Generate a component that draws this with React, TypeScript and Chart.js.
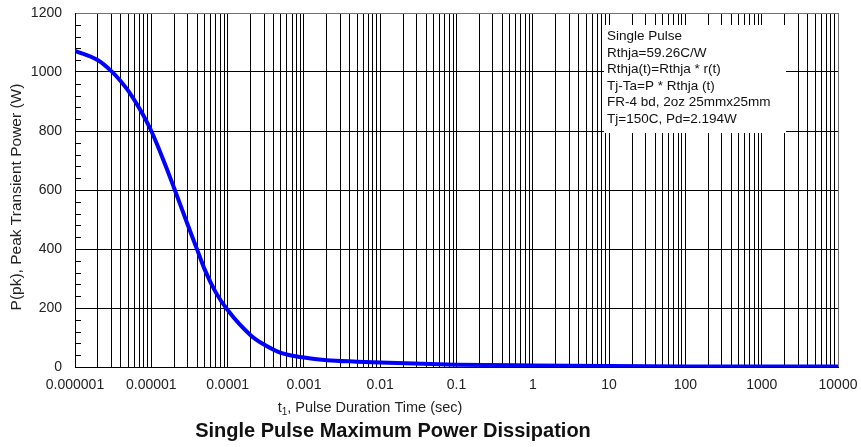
import React, { useEffect, useRef } from "react";
import { Chart, registerables } from "chart.js";

Chart.register(...registerables);

// ---- Data ----
const pulseTimes = [
  1e-6, 2e-6, 3e-6, 4e-6, 5e-6, 7e-6, 1e-5, 1.5e-5, 2e-5, 3e-5, 4e-5, 5e-5, 7e-5, 1e-4, 2e-4, 3e-4, 5e-4,
  1e-3, 2e-3, 5e-3, 1e-2, 0.1, 1, 10, 100, 1000, 10000,
];
const peakPower = [
  1072, 1040, 1003, 968, 936, 876, 800, 690, 605, 482, 397, 331, 253, 193, 108, 76, 48,
  32, 23, 18, 15, 8, 5, 3, 2, 2, 2,
];
const xDecadeLabels = [
  "0.000001", "0.00001", "0.0001", "0.001", "0.01", "0.1", "1", "10", "100", "1000", "10000",
];
const yTickValues = [0, 200, 400, 600, 800, 1000, 1200];
const yMinorStep = 40;
const legendLines = [
  "Single Pulse",
  "Rthja=59.26C/W",
  "Rthja(t)=Rthja * r(t)",
  "Tj-Ta=P * Rthja (t)",
  "FR-4 bd, 2oz 25mmx25mm",
  "Tj=150C, Pd=2.194W",
];
const xTitleMain = "t";
const xTitleSub = "1";
const xTitleRest = ", Pulse Duration Time (sec)";
const yTitle = "P(pk), Peak Transient Power (W)";
const chartTitle = "Single Pulse Maximum Power Dissipation";

const X_MIN_EXP = -6;
const X_MAX_EXP = 4;

const FONT = '"Liberation Sans", Arial, sans-serif';

function buildLogTicks(): number[] {
  const out: number[] = [];
  for (let e = X_MIN_EXP; e < X_MAX_EXP; e++) {
    for (let k = 1; k <= 9; k++) {
      out.push(Number((k * Math.pow(10, e)).toPrecision(12)));
    }
  }
  out.push(Math.pow(10, X_MAX_EXP));
  return out;
}

function decadeIndex(v: number): number {
  const lg = Math.log10(v);
  const r = Math.round(lg);
  return Math.abs(lg - r) < 1e-9 ? r - X_MIN_EXP : -1;
}

const overlayPlugin = {
  id: "overlay",
  beforeDatasetsDraw(chart: any) {
    const ctx = chart.ctx as CanvasRenderingContext2D;
    const { left, top, right } = chart.chartArea;
    const yScale = chart.scales.y;
    ctx.save();
    // minor ticks on left axis
    ctx.strokeStyle = "#000";
    ctx.lineWidth = 1;
    for (let v = yMinorStep; v < 1200; v += yMinorStep) {
      if (v % 200 === 0) continue;
      const py = Math.round(yScale.getPixelForValue(v)) + 0.5;
      ctx.beginPath();
      ctx.moveTo(left, py);
      ctx.lineTo(left + 6, py);
      ctx.stroke();
    }
    // legend box
    const boxLeft = right - 234;
    const boxRight = right - 52;
    const boxTop = top + 12;
    const boxBottom = top + 120;
    ctx.fillStyle = "#fff";
    ctx.fillRect(boxLeft, boxTop, boxRight - boxLeft, boxBottom - boxTop);
    ctx.fillStyle = "#111";
    ctx.font = `13.5px ${FONT}`;
    ctx.textAlign = "left";
    ctx.textBaseline = "alphabetic";
    legendLines.forEach((line, i) => {
      ctx.fillText(line, boxLeft + 3, top + 27 + i * 16.6);
    });
    ctx.restore();
  },
  afterDraw(chart: any) {
    const ctx = chart.ctx as CanvasRenderingContext2D;
    const { left, top, bottom } = chart.chartArea;
    ctx.save();
    ctx.fillStyle = "#222";
    // y title
    ctx.font = `15.5px ${FONT}`;
    ctx.textAlign = "center";
    ctx.textBaseline = "middle";
    ctx.translate(17, (top + bottom) / 2 + 7);
    ctx.rotate(-Math.PI / 2);
    ctx.fillText(yTitle, 0, 0);
    ctx.restore();

    ctx.save();
    ctx.fillStyle = "#222";
    ctx.textBaseline = "alphabetic";
    ctx.textAlign = "left";
    const mainFont = `14.5px ${FONT}`;
    const subFont = `10px ${FONT}`;
    ctx.font = mainFont;
    const wMain = ctx.measureText(xTitleMain).width;
    const wRest = ctx.measureText(xTitleRest).width;
    ctx.font = subFont;
    const wSub = ctx.measureText(xTitleSub).width;
    const total = wMain + wSub + wRest;
    const cx = left + 295;
    const by = bottom + 45;
    let x0 = cx - total / 2;
    ctx.font = mainFont;
    ctx.fillText(xTitleMain, x0, by);
    x0 += wMain;
    ctx.font = subFont;
    ctx.fillText(xTitleSub, x0, by + 3);
    x0 += wSub;
    ctx.font = mainFont;
    ctx.fillText(xTitleRest, x0, by);

    // chart title
    ctx.font = `bold 20px ${FONT}`;
    ctx.textAlign = "center";
    ctx.fillStyle = "#111";
    ctx.fillText(chartTitle, left + 318, bottom + 70);
    ctx.restore();
  },
};

export default function App() {
  const canvasRef = useRef<HTMLCanvasElement | null>(null);

  useEffect(() => {
    if (!canvasRef.current) return;
    const xTicks = buildLogTicks();
    const chart = new Chart(canvasRef.current, {
      type: "line",
      data: {
        datasets: [
          {
            data: pulseTimes.map((t, i) => ({ x: t, y: peakPower[i] })),
            borderColor: "#0000ff",
            borderWidth: 4,
            pointRadius: 0,
            cubicInterpolationMode: "monotone",
            fill: false,
          },
        ],
      },
      options: {
        animation: false,
        responsive: false,
        devicePixelRatio: 1,
        layout: { padding: { top: 13, right: 23, left: 0, bottom: 0 } },
        plugins: { legend: { display: false }, tooltip: { enabled: false }, title: { display: false } },
        scales: {
          x: {
            type: "logarithmic",
            min: Math.pow(10, X_MIN_EXP),
            max: Math.pow(10, X_MAX_EXP),
            afterBuildTicks: (scale: any) => {
              scale.ticks = xTicks.map((v) => ({ value: v }));
            },
            afterFit: (scale: any) => {
              scale.height = 80;
              scale.paddingLeft = 0;
              scale.paddingRight = 0;
            },
            ticks: {
              autoSkip: false,
              maxRotation: 0,
              minRotation: 0,
              padding: 10,
              color: "#222",
              font: { family: FONT, size: 14 },
              callback: (value: any) => {
                const idx = decadeIndex(Number(value));
                return idx >= 0 ? xDecadeLabels[idx] : "";
              },
            },
            grid: {
              drawTicks: false,
              color: (c: any) => (c.tick && Math.abs(c.tick.value - 1e4) < 1e-6 ? "#707070" : "#000"),
              lineWidth: 1,
            },
            border: { display: true, color: "#000", width: 1 },
          },
          y: {
            type: "linear",
            min: 0,
            max: 1200,
            afterBuildTicks: (scale: any) => {
              scale.ticks = yTickValues.map((v) => ({ value: v }));
            },
            afterFit: (scale: any) => {
              scale.width = 75;
              scale.paddingTop = 0;
              scale.paddingBottom = 0;
            },
            ticks: {
              padding: 13,
              color: "#222",
              font: { family: FONT, size: 14 },
              callback: (value: any) => String(value),
            },
            grid: {
              drawTicks: false,
              color: (c: any) => (c.tick && c.tick.value === 1200 ? "#707070" : "#000"),
              lineWidth: 1,
            },
            border: { display: true, color: "#000", width: 1 },
          },
        },
      },
      plugins: [overlayPlugin],
    } as any);
    return () => chart.destroy();
  }, []);

  return (
    <div style={{ position: "absolute", left: 0, top: 0, width: 861, height: 447, background: "#fff" }}>
      <canvas ref={canvasRef} width={861} height={447} style={{ display: "block" }} />
    </div>
  );
}
